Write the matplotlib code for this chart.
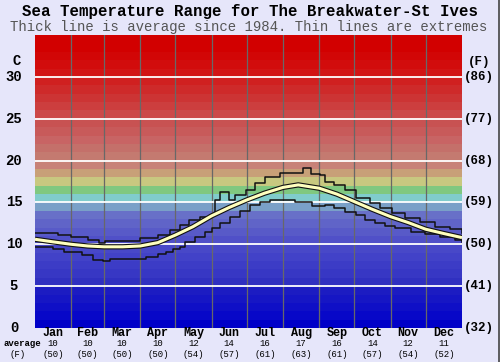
import matplotlib.pyplot as plt
import numpy as np

# month layout
months = ['Jan', 'Feb', 'Mar', 'Apr', 'May', 'Jun', 'Jul', 'Aug', 'Sep', 'Oct', 'Nov', 'Dec']
month_starts = [0, 31, 59, 90, 120, 151, 181, 212, 243, 273, 304, 334, 365]
avg_c = [10, 10, 10, 10, 12, 14, 16, 17, 16, 14, 12, 11]
avg_f = [50, 50, 50, 50, 54, 57, 61, 63, 61, 57, 54, 52]

# average (smooth) line, day of year -> deg C
avg_day = [0, 15, 31, 45, 59, 75, 90, 105, 120, 135, 151, 166, 181, 196, 212, 225,
           243, 258, 273, 288, 304, 319, 334, 349, 365]
avg_val = [10.6, 10.3, 10.0, 9.8, 9.7, 9.7, 9.8, 10.2, 11.1, 12.1, 13.4, 14.4, 15.3,
           16.1, 16.8, 17.1, 16.7, 16.0, 15.1, 14.2, 13.3, 12.6, 11.8, 11.3, 10.8]

# extremes (stepped)
max_day = [0, 10, 20, 31, 45, 55, 60, 90, 105, 115, 124, 132, 141, 150, 154, 158, 166,
           171, 180, 188, 197, 209, 229, 236, 244, 248, 256, 265, 274, 286, 295, 305,
           316, 329, 342, 355, 365]
max_val = [11.4, 11.4, 11.1, 10.9, 10.5, 10.1, 10.4, 10.7, 11.1, 11.7, 12.3, 12.9, 13.3,
           13.5, 15.3, 16.2, 15.3, 15.9, 16.5, 17.3, 18.1, 18.5, 19.1, 18.4, 18.3, 17.5,
           17.1, 16.5, 15.5, 14.9, 14.3, 13.7, 13.1, 12.7, 12.1, 11.8, 11.4]
min_day = [0, 15, 25, 40, 50, 58, 64, 75, 95, 105, 112, 118, 124, 128, 137, 145, 151,
           158, 167, 175, 184, 192, 201, 222, 231, 237, 248, 256, 265, 274, 282, 291,
           299, 308, 321, 333, 346, 359, 365]
min_val = [9.7, 9.4, 9.1, 8.7, 8.1, 8.0, 8.2, 8.3, 8.5, 8.9, 9.1, 9.4, 9.7, 10.3, 10.9,
           11.5, 12.0, 12.6, 13.3, 14.0, 14.7, 15.1, 15.3, 15.1, 15.0, 14.6, 14.7, 14.3,
           13.9, 13.5, 12.9, 12.5, 12.2, 11.9, 11.5, 11.2, 10.9, 10.5, 10.3]

# one colour band per degree C, 0..35
band_colors = [
    (0, 0, 200), (8, 8, 200), (15, 15, 198), (22, 22, 196), (28, 28, 194),
    (48, 48, 192), (55, 55, 196), (60, 60, 198), (66, 66, 200), (72, 72, 200),
    (80, 80, 200), (88, 90, 200), (96, 100, 200), (104, 112, 200), (122, 160, 200),
    (128, 204, 204), (128, 200, 128), (200, 200, 128), (200, 160, 120), (200, 130, 120),
    (196, 122, 112), (196, 112, 106), (200, 100, 100), (200, 90, 90), (200, 82, 82),
    (204, 72, 72), (204, 62, 62), (204, 52, 52), (206, 42, 42), (208, 32, 32),
    (210, 20, 20), (210, 12, 12), (210, 6, 6), (210, 0, 0), (210, 0, 0),
]

fig = plt.figure(figsize=(5, 3.62), dpi=100, facecolor='#e6e6fa')
ax = fig.add_axes([0.07, 0.094, 0.854, 0.809])
ax.set_xlim(0, 365)
ax.set_ylim(0, 35)

for i, c in enumerate(band_colors):
    ax.axhspan(i, i + 1, color=np.array(c) / 255, lw=0, zorder=0)

for d in month_starts[1:-1]:
    ax.axvline(d, color='#686868', lw=0.9, zorder=1)
for t in range(5, 35, 5):
    ax.axhline(t, color='white', lw=1.3, zorder=1)

ax.step(max_day, max_val, where='post', color='#111111', lw=1.1, zorder=3)
ax.step(min_day, min_val, where='post', color='#111111', lw=1.1, zorder=3)
ax.plot(avg_day, avg_val, color='#111111', lw=3.8, zorder=4, solid_capstyle='butt')
ax.plot(avg_day, avg_val, color='#ffffbe', lw=2.2, zorder=5, solid_capstyle='butt')

ax.set_xticks([])
ax.set_yticks([])
for s in ax.spines.values():
    s.set_visible(False)

mono = 'Liberation Mono'
fig.text(0.5, 0.967, 'Sea Temperature Range for The Breakwater-St Ives',
         ha='center', va='center', family=mono, weight='bold', fontsize=11.3)
fig.text(0.497, 0.925, 'Thick line is average since 1984. Thin lines are extremes',
         ha='center', va='center', family=mono, fontsize=10.1, color='#555555')

# left / right scales
for t in range(0, 35, 5):
    yf = 0.094 + t / 35 * 0.809
    fig.text(0.028, yf, str(t), ha='center', va='center', family=mono,
             weight='bold', fontsize=10)
    fig.text(0.958, yf, '(%d)' % round(t * 9 / 5 + 32), ha='center', va='center',
             family=mono, weight='bold', fontsize=9)
fig.text(0.034, 0.832, 'C', ha='center', va='center', family=mono, weight='bold', fontsize=10)
fig.text(0.958, 0.829, '(F)', ha='center', va='center', family=mono, weight='bold', fontsize=9)

# month labels and averages
for i, m in enumerate(months):
    mid = (month_starts[i] + month_starts[i + 1]) / 2
    xf = 0.07 + mid / 365 * 0.854
    fig.text(xf, 0.080, m, ha='center', va='center', family=mono, weight='bold', fontsize=8.5)
    fig.text(xf, 0.050, str(avg_c[i]), ha='center', va='center', family=mono, fontsize=6.5)
    fig.text(xf, 0.022, '(%d)' % avg_f[i], ha='center', va='center', family=mono, fontsize=6.5)
fig.text(0.044, 0.050, 'average', ha='center', va='center', family=mono,
         weight='bold', fontsize=6.5)
fig.text(0.036, 0.022, '(F)', ha='center', va='center', family=mono, fontsize=6.5)

fig.add_artist(plt.Line2D([0.998, 0.998], [0, 1], color='#444444', lw=1.2,
                          transform=fig.transFigure))

fig.savefig('out.png', dpi=100, facecolor=fig.get_facecolor())
